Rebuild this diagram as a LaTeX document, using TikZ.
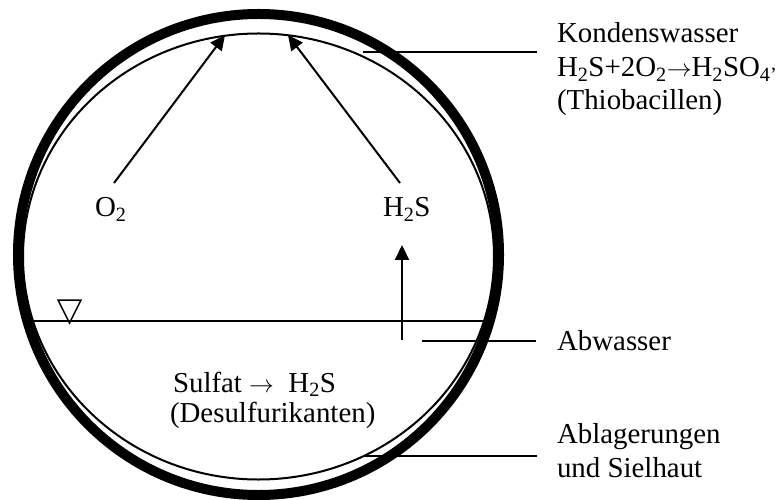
\documentclass[tikz,border=0pt]{standalone}
\usepackage{fontspec}
\setmainfont{Liberation Serif}
\usetikzlibrary{arrows.meta}
\tikzset{
  lbl/.style={inner sep=0pt, outer sep=0pt, anchor=base west, font=\fontsize{29}{34}\selectfont},
  pipe/.style={line width=10bp},
  skin/.style={line width=2bp},
  leader/.style={line width=1.4bp},
  flow/.style={line width=2bp, -{Triangle[length=15bp,width=14bp]}},
}
\begin{document}
\begin{tikzpicture}[x=1bp,y=-1bp]
\useasboundingbox (0,0) rectangle (777,500);
% pipe and inner layer
\coordinate (c) at (258.5,254.5);
\coordinate (ci) at (258.5,256.5);
\draw[pipe] (c) circle [x radius=240.5bp, y radius=240.5bp];
\draw[skin] (ci) circle [x radius=235.5bp, y radius=223bp];
% water level
\coordinate (wl) at (27.4,321);
\coordinate (wr) at (489.6,321);
\draw[line width=1.8bp] (wl) -- (wr);
\coordinate (t1) at (58,300);
\coordinate (t2) at (81,300);
\coordinate (t3) at (69.5,323);
\draw[line width=1.5bp, line join=miter] (t1) -- (t2) -- (t3) -- cycle;
% labels inside
\node[lbl] (o2) at (95,217) {O\textsubscript{2}};
\node[lbl] (h2s) at (383,217) {H\textsubscript{2}S};
\node[lbl] (sulf) at (173,392) {Sulfat $\rightarrow$ \ H\textsubscript{2}S};
\node[lbl] (desulf) at (170,422) {(Desulfurikanten)};
% arrows
\coordinate (a1s) at (114,183);
\coordinate (a1e) at (225,35);
\coordinate (a2s) at (400,183);
\coordinate (a2e) at (288,35);
\coordinate (a3s) at (402,340);
\coordinate (a3e) at (402,245);
\draw[flow] (a1s) -- (a1e);
\draw[flow] (a2s) -- (a2e);
\draw[flow] (a3s) -- (a3e);
% right labels
\node[lbl] (kond) at (557,43) {Kondenswasser};
\node[lbl] (react) at (557,77) {H\textsubscript{2}S+2O\textsubscript{2}$\rightarrow$H\textsubscript{2}SO\textsubscript{4’}};
\node[lbl] (thio) at (557,110) {(Thiobacillen)};
\node[lbl] (abw) at (557,350) {Abwasser};
\node[lbl] (abl) at (557,443) {Ablagerungen};
\node[lbl] (siel) at (557,477) {und Sielhaut};
% leader lines
\coordinate (k1) at (363,52);
\coordinate (k2) at (537,52);
\coordinate (w1) at (422,341);
\coordinate (w2) at (536,341);
\coordinate (s1) at (363,456);
\coordinate (s2) at (537,456);
\draw[leader] (k1) -- (k2);
\draw[leader] (w1) -- (w2);
\draw[leader] (s1) -- (s2);
\end{tikzpicture}
\end{document}
